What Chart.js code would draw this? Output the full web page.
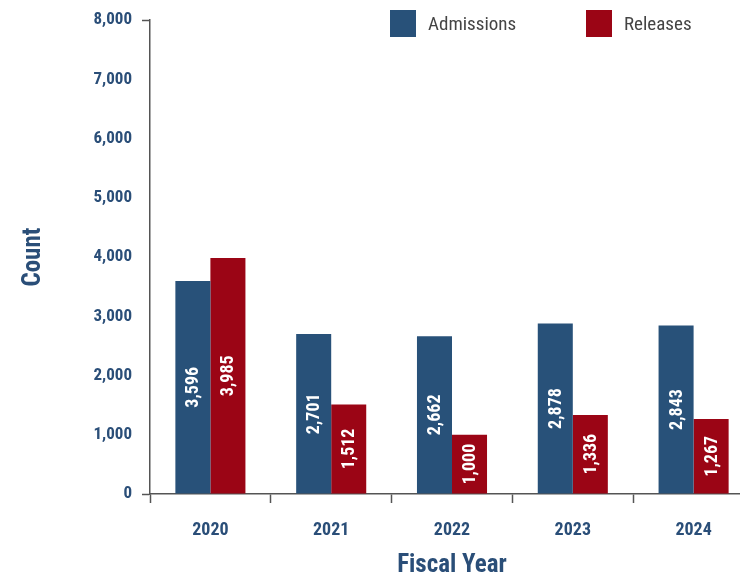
<!DOCTYPE html>
<html>
<head>
<meta charset="utf-8">
<script src="https://cdn.jsdelivr.net/npm/chart.js@4/dist/chart.umd.min.js"></script>
<style>
  html, body { margin: 0; padding: 0; background: #ffffff; overflow: hidden; }
  #wrap { position: relative; width: 754px; height: 576px; }
</style>
</head>
<body>
<div id="wrap"><canvas id="chart"></canvas></div>
<script>
// Fiscal years and yearly counts
const fiscalYears = ['2020', '2021', '2022', '2023', '2024'];
const admissions = [3596, 2701, 2662, 2878, 2843];
const releases = [3985, 1512, 1000, 1336, 1267];
const yTicks = [0, 1000, 2000, 3000, 4000, 5000, 6000, 7000, 8000];

const BLUE = '#285179';
const RED = '#9b0515';
const AXIS = '#555555';
const NAVY = '#2a4e78';
const FONT = "'Roboto Condensed', 'Liberation Sans Narrow', 'DejaVu Sans Condensed', 'Arial Narrow', Roboto, sans-serif";

const fmt = v => v.toLocaleString('en-US');

// White value labels written upward inside each bar
const barValueLabels = {
  id: 'barValueLabels',
  afterDatasetsDraw(chart) {
    const ctx = chart.ctx;
    ctx.save();
    ctx.fillStyle = '#ffffff';
    ctx.font = 'bold 18px ' + FONT;
    ctx.textAlign = 'center';
    ctx.textBaseline = 'middle';
    chart.data.datasets.forEach((ds, di) => {
      chart.getDatasetMeta(di).data.forEach((bar, i) => {
        const cy = (bar.y + bar.base) / 2;
        ctx.save();
        ctx.translate(bar.x, cy);
        ctx.rotate(-Math.PI / 2);
        ctx.fillText(fmt(ds.data[i]), 0, 1);
        ctx.restore();
      });
    });
    ctx.restore();
  }
};

// Square-swatch legend in the upper right
const swatchLegend = {
  id: 'swatchLegend',
  afterDraw(chart) {
    const ctx = chart.ctx;
    const items = [
      { x: 390, ds: chart.data.datasets[0] },
      { x: 586, ds: chart.data.datasets[1] }
    ];
    ctx.save();
    ctx.font = '19px ' + FONT;
    ctx.textBaseline = 'middle';
    ctx.textAlign = 'left';
    items.forEach(it => {
      ctx.fillStyle = it.ds.backgroundColor;
      ctx.fillRect(it.x, 10, 26, 27);
      ctx.fillStyle = '#444444';
      ctx.fillText(it.ds.label, it.x + 38, 25);
    });
    ctx.restore();
  }
};

new Chart(document.getElementById('chart'), {
  type: 'bar',
  data: {
    labels: fiscalYears,
    datasets: [
      { label: 'Admissions', data: admissions, backgroundColor: BLUE, barPercentage: 1.0, categoryPercentage: 0.58 },
      { label: 'Releases', data: releases, backgroundColor: RED, barPercentage: 1.0, categoryPercentage: 0.58 }
    ]
  },
  options: {
    responsive: true,
    maintainAspectRatio: false,
    animation: false,
    layout: { padding: { top: 19, right: 0, bottom: 0, left: 0 } },
    plugins: {
      legend: { display: false },
      tooltip: { enabled: false }
    },
    scales: {
      x: {
        grid: {
          display: true,
          drawOnChartArea: false,
          drawTicks: true,
          tickLength: 9,
          tickWidth: 1.5,
          color: AXIS,
          offset: true
        },
        border: { display: true, color: AXIS, width: 1.5 },
        ticks: {
          color: NAVY,
          font: { family: FONT, size: 18, weight: 'bold' },
          padding: 17
        },
        title: {
          display: true,
          text: 'Fiscal Year',
          color: NAVY,
          font: { family: FONT, size: 25, weight: 'bold', lineHeight: 0.8 },
          padding: { top: 0, bottom: 0 }
        },
        afterFit(scale) { scale.height = 82; }
      },
      y: {
        min: 0,
        max: 8000,
        afterBuildTicks(scale) { scale.ticks = yTicks.map(v => ({ value: v })); },
        grid: {
          display: true,
          drawOnChartArea: false,
          drawTicks: true,
          tickLength: 8,
          tickWidth: 1.5,
          color: ctx => (ctx.tick && (ctx.tick.value === 8000 || ctx.tick.value === 0)) ? AXIS : 'rgba(0,0,0,0)'
        },
        border: { display: true, color: AXIS, width: 1.5 },
        ticks: {
          color: NAVY,
          font: { family: FONT, size: 17, weight: 'bold' },
          padding: 10,
          callback: v => fmt(v)
        },
        title: {
          display: true,
          text: 'Count',
          color: NAVY,
          font: { family: FONT, size: 25, weight: 'bold' },
          padding: { top: 19, bottom: 0 }
        },
        afterFit(scale) { scale.width = 150; }
      }
    }
  },
  plugins: [barValueLabels, swatchLegend]
});
</script>
</body>
</html>
